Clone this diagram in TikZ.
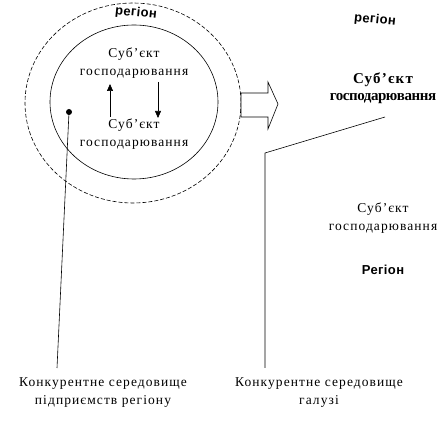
\documentclass[tikz,border=0pt]{standalone}
\usepackage{fontspec}
\setmainfont{Liberation Serif}
\newfontfamily\wordart{Liberation Sans}
\usetikzlibrary{arrows.meta}
\begin{document}
\begin{tikzpicture}[x=1pt,y=-1pt,
  txt/.style={font=\fontsize{13.5}{18}\selectfont\addfontfeatures{LetterSpace=8}, align=center, inner sep=0pt},
  boldtxt/.style={font=\fontsize{15}{17}\selectfont\bfseries, align=center, inner sep=0pt},
  reg/.style={font=\wordart\fontsize{13}{14}\selectfont\bfseries\addfontfeatures{LetterSpace=3}, inner sep=0pt},
  ln/.style={line width=0.6pt},
  arr/.style={line width=0.6pt,-{Triangle[length=7pt,width=6pt]}}]
\useasboundingbox (0,0) rectangle (448,430);
% circles
\draw[ln,dashed,dash pattern=on 4pt off 2pt] (133,103) ellipse [x radius=108, y radius=100];
\draw[ln] (134,102) ellipse [x radius=84, y radius=77];
\node[reg,rotate=-6] (r1) at (136,13) {регіон};
% inner texts
\node[txt] (s1) at (134,63) {Суб’єкт\\господарювання};
\node[txt] (s2) at (134,134) {Суб’єкт\\господарювання};
\coordinate (u1) at (110,117); \coordinate (u2) at (110,84);
\coordinate (d1) at (158,82); \coordinate (d2) at (158,118);
\draw[arr] (u1) -- (u2);
\draw[arr] (d1) -- (d2);
% dot and line
\fill (69,112) circle (3pt);
\coordinate (dot) at (69,112);
\coordinate (lb) at (57,368);
\draw[ln] (dot) -- (lb);
% block arrow
\draw[ln,fill=white] (241,93) -- (268,93) -- (268,82) -- (278,104) -- (268,129) -- (268,117) -- (241,117) -- cycle;
% right side
\node[reg,rotate=-6] (r2) at (375,20) {регіон};
\node[boldtxt] (b1) at (383,88) {{\addfontfeatures{LetterSpace=8}Суб’єкт}\\{\addfontfeatures{LetterSpace=-3}господарювання}};
\node[txt] (s3) at (383,218) {Суб’єкт\\господарювання};
\node[reg] (r3) at (383,270) {Регіон};
\coordinate (k1) at (385,117);
\coordinate (k2) at (265,153);
\coordinate (k3) at (265,368);
\draw[ln] (k1) -- (k2) -- (k3);
% bottom
\node[txt] (c1) at (103,393) {Конкурентне середовище\\підприємств регіону};
\node[txt] (c2) at (319,393) {Конкурентне середовище\\галузі};
\end{tikzpicture}
\end{document}
